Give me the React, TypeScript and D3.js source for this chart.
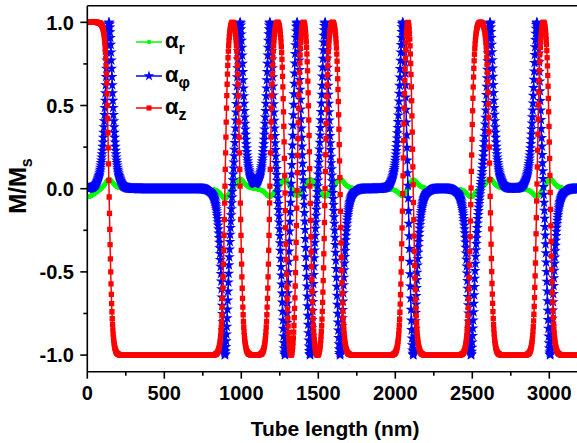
import React from 'react';
import * as d3 from 'd3';

const W = 577;
const H = 443;

// Domain-wall centres (nm), read where alpha_z crosses zero
const wallCenters = [141, 894, 992, 1186, 1284, 1362, 1446, 1544, 1641, 2050, 2115, 2492, 2615, 2920, 3005];
// Rotation sense of each wall (+1: angle grows by pi, -1: angle falls by pi)
const wallSense = [1, 1, 1, -1, -1, -1, -1, -1, -1, -1, -1, 1, 1, -1, -1];
// Peak of alpha_r at each wall
const radialPeaks = [0.06, -0.06, 0.06, -0.05, 0.06, -0.05, 0.06, -0.05, 0.06, -0.05, 0.06, -0.05, 0.06, -0.05, 0.06];
const wallWidth = 20; // nm
const radialWidth = 24; // nm
const endRadial = -0.05; // alpha_r at the tube end
const endRadialWidth = 45;
const meshStep = 2; // nm
const lengthMax = 3200;

const xTicks = [0, 500, 1000, 1500, 2000, 2500, 3000];
const xMinor = [250, 750, 1250, 1750, 2250, 2750, 3250];
const yTicks = [-1, -0.5, 0, 0.5, 1];
const yTickLabels = ['-1.0', '-0.5', '0.0', '0.5', '1.0'];
const yMinor = [-0.75, -0.25, 0.25, 0.75];
const seriesSubs = ['r', 'φ', 'z'];
const seriesColors = ['#00ff00', '#0000ff', '#ff0000'];

const positions = d3.range(0, lengthMax + meshStep, meshStep);

function angleAt(x: number) {
  let t = 0;
  for (let i = 0; i < wallCenters.length; i++) {
    t += wallSense[i] * 2 * Math.atan(Math.exp((x - wallCenters[i]) / wallWidth));
  }
  return t;
}
function radialAt(x: number) {
  let r = endRadial / Math.cosh(x / endRadialWidth);
  for (let i = 0; i < wallCenters.length; i++) {
    r += radialPeaks[i] / Math.cosh((x - wallCenters[i]) / radialWidth);
  }
  return r;
}

const alphaR = positions.map((x) => radialAt(x));
const alphaPhi = positions.map((x) => Math.sin(angleAt(x)));
const alphaZ = positions.map((x) => Math.cos(angleAt(x)));
const seriesValues = [alphaR, alphaPhi, alphaZ];

const font = 'Liberation Sans, Arial, Helvetica, sans-serif';

export default function App() {
  const x = d3.scaleLinear().domain([0, 3200]).range([87.3, 580.1]);
  const y = d3.scaleLinear().domain([-1.1, 1.1]).range([371.7, 5.7]);
  const left = 87.3;
  const top = 5.7;
  const bottom = 371.7;

  const line = d3
    .line<number>()
    .x((_, i) => x(positions[i]))
    .y((d) => y(d));

  const symbols = [
    d3.symbol().type(d3.symbolCircle).size(16)()!,
    d3.symbol().type(d3.symbolStar).size(38)()!,
    d3.symbol().type(d3.symbolSquare).size(28)()!,
  ];
  const legendSymbols = [
    d3.symbol().type(d3.symbolCircle).size(16)()!,
    d3.symbol().type(d3.symbolStar).size(34)()!,
    d3.symbol().type(d3.symbolSquare).size(26)()!,
  ];
  const legendRows = [42, 76, 108];

  return (
    <svg
      width={W}
      height={H}
      style={{ position: 'absolute', left: 0, top: 0, background: '#fff' }}
      fontFamily={font}
    >
      <defs>
        <clipPath id="plot">
          <rect x={left} y={top - 10} width={W - left} height={bottom - top + 20} />
        </clipPath>
      </defs>
      <rect x={0} y={0} width={W} height={H} fill="#fff" />
      <g clipPath="url(#plot)">
        {seriesValues.map((vals, s) => (
          <g key={s}>
            <path d={line(vals)!} fill="none" stroke={seriesColors[s]} strokeWidth={1.5} />
            {vals.map((v, i) => (
              <path
                key={i}
                d={symbols[s]}
                transform={`translate(${x(positions[i]).toFixed(2)},${y(v).toFixed(2)})`}
                fill={seriesColors[s]}
              />
            ))}
          </g>
        ))}
      </g>

      {/* axes */}
      <line x1={left} x2={W} y1={top} y2={top} stroke="#000" strokeWidth={1.6} />
      <line x1={left} x2={left} y1={top} y2={bottom} stroke="#000" strokeWidth={1.6} />
      <line x1={left} x2={W} y1={bottom} y2={bottom} stroke="#000" strokeWidth={1.6} />

      {xTicks.map((t) => (
        <g key={t}>
          <line x1={x(t)} x2={x(t)} y1={bottom} y2={bottom + 7} stroke="#000" strokeWidth={1.6} />
          <text x={x(t)} y={400} textAnchor="middle" fontSize={20} fontWeight="bold">
            {t}
          </text>
        </g>
      ))}
      {xMinor.map((t) => (
        <line key={t} x1={x(t)} x2={x(t)} y1={bottom} y2={bottom + 4} stroke="#000" strokeWidth={1.6} />
      ))}
      {yTicks.map((t, i) => (
        <g key={t}>
          <line x1={left - 7} x2={left} y1={y(t)} y2={y(t)} stroke="#000" strokeWidth={1.6} />
          <text x={74} y={y(t)} dy="0.36em" textAnchor="end" fontSize={20} fontWeight="bold">
            {yTickLabels[i]}
          </text>
        </g>
      ))}
      {yMinor.map((t) => (
        <line key={t} x1={left - 4} x2={left} y1={y(t)} y2={y(t)} stroke="#000" strokeWidth={1.6} />
      ))}

      <text x={335} y={436} textAnchor="middle" fontSize={21} fontWeight="bold">
        Tube length (nm)
      </text>
      <text transform="translate(26,186) rotate(-90)" textAnchor="middle" fontSize={24} fontWeight="bold">
        M/M
        <tspan fontSize={16} dy={6}>
          s
        </tspan>
      </text>

      {/* legend */}
      {seriesSubs.map((sub, s) => (
        <g key={sub}>
          <line x1={136} x2={162} y1={legendRows[s]} y2={legendRows[s]} stroke={seriesColors[s]} strokeWidth={1.5} />
          <path d={legendSymbols[s]} transform={`translate(149,${legendRows[s]})`} fill={seriesColors[s]} />
          <text x={165} y={legendRows[s] + 6} fontSize={22} fontWeight="bold">
            α
            <tspan fontSize={16} dy={6}>
              {sub}
            </tspan>
          </text>
        </g>
      ))}
    </svg>
  );
}
